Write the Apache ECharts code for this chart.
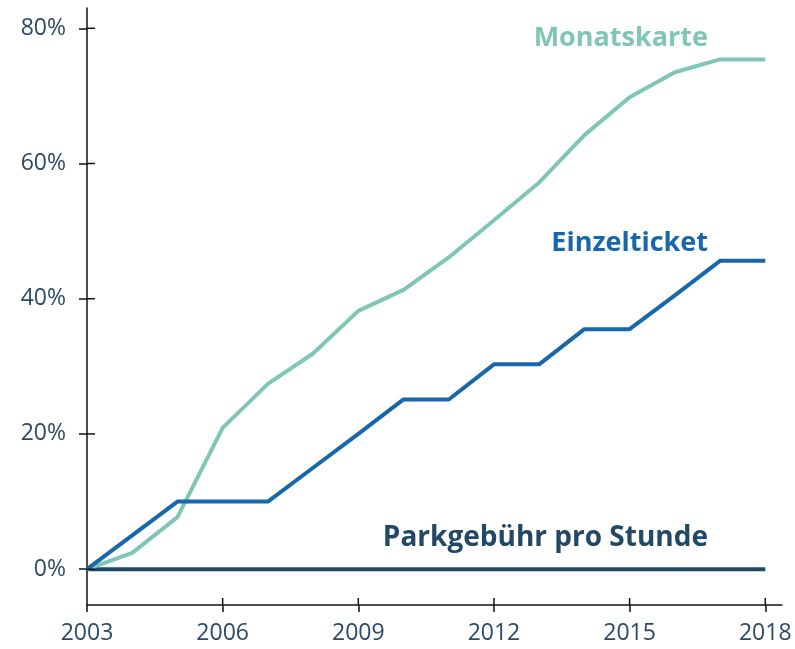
<!DOCTYPE html>
<html><head><meta charset="utf-8">
<script src="https://cdn.jsdelivr.net/npm/echarts@6/dist/echarts.min.js"></script>
<style>html,body{margin:0;padding:0;background:#fff}#c{width:795px;height:649px}</style>
</head><body><div id="c"></div>
<script>
const years = [2003,2004,2005,2006,2007,2008,2009,2010,2011,2012,2013,2014,2015,2016,2017,2018];
const monatskarte = [0,2.4,7.7,20.9,27.4,31.9,38.2,41.3,46.1,51.6,57.2,64.2,69.8,73.5,75.4,75.4];
const einzelticket = [0,5,10,10,10,15,20,25.1,25.1,30.3,30.3,35.5,35.5,40.5,45.6,45.6];
const parkgebuehr = [0,0,0,0,0,0,0,0,0,0,0,0,0,0,0,0];
const xTicks = [2003,2006,2009,2012,2015,2018];
const yTicks = [0,20,40,60,80];
const seriesNames = ['Monatskarte','Einzelticket','Parkgebühr pro Stunde'];
const colors = ['#7fc6b7','#1767aa','#214866'];

const font = '"Open Sans"';
const labelColor = '#2c4a65';
const X_MIN = 2003, X_MAX = 2018.37, Y_MIN = -5.3, Y_MAX = 83;
const chart = echarts.init(document.getElementById('c'), null, {renderer:'canvas'});
const pair = arr => years.map((y,i)=>[y,arr[i]]);
const tickStyle = {color:'#111',width:1.5};

// inner halves of the crossing tick marks, placed through the axes' scales
function innerTicks(kind) {
  return {
    type:'custom', clip:false, silent:true, z:10,
    data: kind === 'x' ? xTicks.slice(1).map(v=>[v, Y_MIN]) : yTicks.map(v=>[X_MIN, v]),
    renderItem: function (params, api) {
      const p = api.coord([api.value(0), api.value(1)]);
      const shape = kind === 'x'
        ? {x1:p[0], y1:p[1], x2:p[0], y2:p[1]-7}
        : {x1:p[0], y1:p[1], x2:p[0]+8, y2:p[1]};
      return {type:'line', shape: shape, style:{stroke:'#111', lineWidth:1.5}};
    }
  };
}

chart.setOption({
  animation:false,
  grid:{left:87,right:13,top:8,bottom:44},
  xAxis:{type:'value', min:X_MIN, max:X_MAX, splitLine:{show:false},
    axisLine:{show:true,onZero:false,lineStyle:tickStyle},
    axisTick:{show:true,length:7,customValues:xTicks,lineStyle:tickStyle},
    axisLabel:{customValues:xTicks,formatter:v=>String(v),color:labelColor,fontSize:23,fontFamily:font,margin:17}
  },
  yAxis:{type:'value', min:Y_MIN, max:Y_MAX, splitLine:{show:false},
    axisLine:{show:true,onZero:false,lineStyle:tickStyle},
    axisTick:{show:true,length:8,customValues:yTicks,lineStyle:tickStyle},
    axisLabel:{customValues:yTicks,formatter:v=>v+'%',color:labelColor,fontSize:23,fontFamily:font,margin:21}
  },
  series:[
    innerTicks('x'),
    innerTicks('y'),
    {name:seriesNames[2],type:'line',data:pair(parkgebuehr),symbol:'none',lineStyle:{color:colors[2],width:4},z:3},
    {name:seriesNames[0],type:'line',data:pair(monatskarte),symbol:'none',lineStyle:{color:colors[0],width:4},z:4},
    {name:seriesNames[1],type:'line',data:pair(einzelticket),symbol:'none',lineStyle:{color:colors[1],width:4},z:5}
  ],
  graphic:[
    {type:'text',x:708,y:38,style:{text:seriesNames[0],fill:colors[0],font:'bold 27px '+font,align:'right',verticalAlign:'middle'}},
    {type:'text',x:708,y:243,style:{text:seriesNames[1],fill:colors[1],font:'bold 27px '+font,align:'right',verticalAlign:'middle'}},
    {type:'text',x:708,y:538,style:{text:seriesNames[2],fill:colors[2],font:'bold 28px '+font,align:'right',verticalAlign:'middle'}}
  ]
});
</script></body></html>
